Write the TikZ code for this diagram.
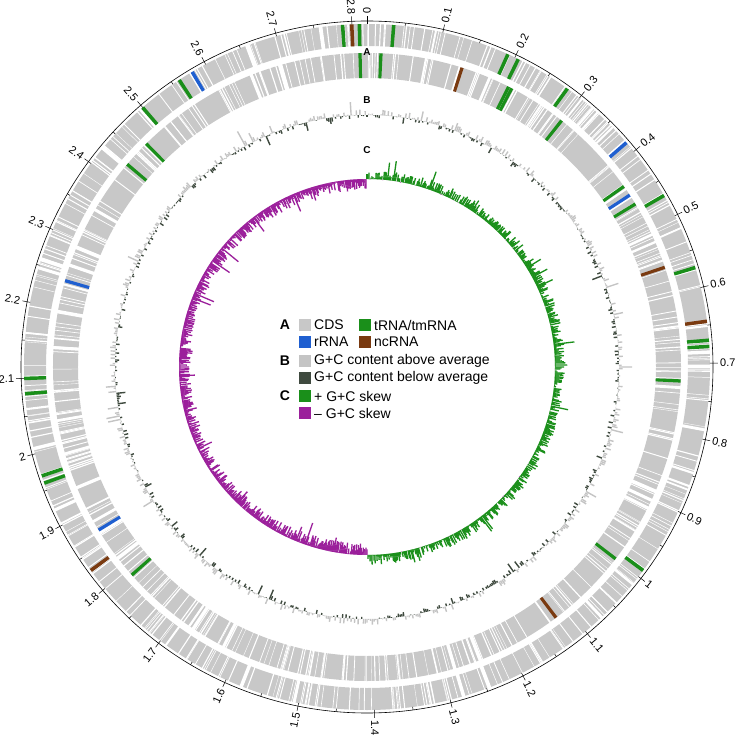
\documentclass[tikz,border=0pt]{standalone}
\usepackage{fontspec}
\setmainfont{Liberation Sans}
\definecolor{cds}{HTML}{C8C8C8}
\definecolor{trna}{HTML}{1A8F1A}
\definecolor{rrna}{HTML}{1F5FD0}
\definecolor{ncrna}{HTML}{7A3A10}
\definecolor{gclo}{HTML}{3F4A3F}
\definecolor{gchi}{HTML}{C4C4C4}
\definecolor{skp}{HTML}{1A8F1A}
\definecolor{skn}{HTML}{9B1F9B}
\newcommand\glen{2.82}
\newcommand\gsect[5]{%
  \pgfmathsetmacro\sa{90-#1*360/\glen-#5}%
  \pgfmathsetmacro\sb{90-#1*360/\glen+#5}%
  \fill[#4] (\sa:#2) arc[start angle=\sa,end angle=\sb,radius=#2] -- (\sb:#3) arc[start angle=\sb,end angle=\sa,radius=#3] -- cycle;}
\newcommand\ofeat[2]{\gsect{#1}{321}{343}{#2}{0.3}}
\newcommand\ifeat[2]{\gsect{#1}{289}{314}{#2}{0.3}}
\begin{document}
\begin{tikzpicture}[x=1pt,y=1pt,
  ringlbl/.style={font=\bfseries\fontsize{10}{12}\selectfont},
  tlbl/.style={font=\fontsize{11}{13}\selectfont,inner sep=1pt},
  lg/.style={font=\fontsize{14}{16}\selectfont,anchor=west,inner sep=0pt},
  sw/.style={minimum size=12pt,inner sep=0pt}]
\useasboundingbox[fill=white] (-367,-368) rectangle (368,367);
\pgfmathsetseed{7}
% CDS rings
\fill[cds,even odd rule] (0,0) circle[radius=343] (0,0) circle[radius=321];
\fill[cds,even odd rule] (0,0) circle[radius=314] (0,0) circle[radius=289];
\foreach \i in {1,...,380}{
  \pgfmathsetmacro\a{rnd*360}
  \pgfmathsetmacro\w{0.3+rnd*(rnd<0.15?3.5:0.9)}
  \draw[white,line width=\w pt] (\a:320) -- (\a:344);
}
\foreach \i in {1,...,380}{
  \pgfmathsetmacro\a{rnd*360}
  \pgfmathsetmacro\w{0.3+rnd*(rnd<0.15?3.5:0.9)}
  \draw[white,line width=\w pt] (\a:288) -- (\a:315);
}
% features outer
\foreach \q in {2.788,2.81,0.035,0.19,0.205,0.28,0.47,0.573,0.67,0.678,0.99,2.1,2.08,1.96,1.97,2.5,2.56}{\ofeat{\q}{trna}}
\foreach \q in {2.80,0.645,1.83}{\ofeat{\q}{ncrna}}
\foreach \q in {0.385,2.58}{\ofeat{\q}{rrna}}
% features inner
\foreach \q in {2.81,0.02,0.21,0.215,0.30,0.43,0.46,0.725,1.0,1.79,2.43,2.47}{\ifeat{\q}{trna}}
\foreach \q in {0.138,0.56,1.12}{\ifeat{\q}{ncrna}}
\foreach \q in {0.445,2.24,1.87}{\ifeat{\q}{rrna}}
% scale circle
\draw[line width=0.6pt] (0,0) circle[radius=346];
\foreach \k in {0,...,56}{
  \pgfmathsetmacro\t{90-\k*0.05*360/\glen}
  \draw[line width=0.5pt] (\t:346) -- (\t:343);
}
\foreach \k/\lb in {0/0,1/0.1,2/0.2,3/0.3,4/0.4,5/0.5,6/0.6,7/0.7,8/0.8,9/0.9,10/1,11/1.1,12/1.2,13/1.3,14/1.4,15/1.5,16/1.6,17/1.7,18/1.8,19/1.9,20/2,21/2.1,22/2.2,23/2.3,24/2.4,25/2.5,26/2.6,27/2.7,28/2.8}{
  \pgfmathsetmacro\t{90-\k*0.1*360/\glen}
  \pgfmathsetmacro\cs{cos(\t)}
  \draw[line width=0.5pt] (\t:346) -- (\t:351);
  \ifdim\cs pt>0.001pt
    \node[tlbl,anchor=west,rotate=\t] at (\t:352) {\lb};
  \else
    \pgfmathsetmacro\tr{\t-180}
    \node[tlbl,anchor=east,rotate=\tr] at (\t:352) {\lb};
  \fi
}
% GC content
\foreach \i in {0,...,899}{
  \pgfmathsetmacro\a{90-\i*0.4}
  \pgfmathsetmacro\h{(rnd-0.42)*10*(rnd<0.05?3:1)}
  \pgfmathsetmacro\r{252+\h}
  \ifdim\h pt>0pt \draw[gchi,line width=1.4pt] (\a:252) -- (\a:\r);
  \else \draw[gclo,line width=1.4pt] (\a:252) -- (\a:\r); \fi
}
% GC skew
\foreach \i in {0,...,1199}{
  \pgfmathsetmacro\a{90-\i*0.3}
  \pgfmathsetmacro\mm{\i<600?5:-6}
  \pgfmathsetmacro\h{(\mm+(rnd-0.5)*11)*(rnd<0.05?2:1)}
  \pgfmathsetmacro\r{188+\h}
  \ifdim\h pt>0pt \draw[skp,line width=1.3pt] (\a:188) -- (\a:\r);
  \else \draw[skn,line width=1.3pt] (\a:188) -- (\a:\r); \fi
}
% ring labels
\node[ringlbl] (la) at (90:315) {A};
\node[ringlbl] (lb) at (90:267) {B};
\node[ringlbl] (lc) at (90:217) {C};
% legend
\node[font=\bfseries\fontsize{14}{16}\selectfont] (ka) at (-82,42) {A};
\node[sw,fill=cds] (s1) at (-62,42) {};
\node[lg] (t1) at (-53,42) {CDS};
\node[sw,fill=trna] (s2) at (-2,42) {};
\node[lg] (t2) at (7,42) {tRNA/tmRNA};
\node[sw,fill=rrna] (s3) at (-62,25) {};
\node[lg] (t3) at (-53,25) {rRNA};
\node[sw,fill=ncrna] (s4) at (-2,25) {};
\node[lg] (t4) at (7,25) {ncRNA};
\node[font=\bfseries\fontsize{14}{16}\selectfont] (kb) at (-82,6) {B};
\node[sw,fill=gchi] (s5) at (-62,6) {};
\node[lg] (t5) at (-53,6) {G+C content above average};
\node[sw,fill=gclo] (s6) at (-62,-11) {};
\node[lg] (t6) at (-53,-11) {G+C content below average};
\node[font=\bfseries\fontsize{14}{16}\selectfont] (kc) at (-82,-29) {C};
\node[sw,fill=skp] (s7) at (-62,-29) {};
\node[lg] (t7) at (-53,-29) {+ G+C skew};
\node[sw,fill=skn] (s8) at (-62,-46) {};
\node[lg] (t8) at (-53,-46) {\textendash\ G+C skew};
\end{tikzpicture}
\end{document}
